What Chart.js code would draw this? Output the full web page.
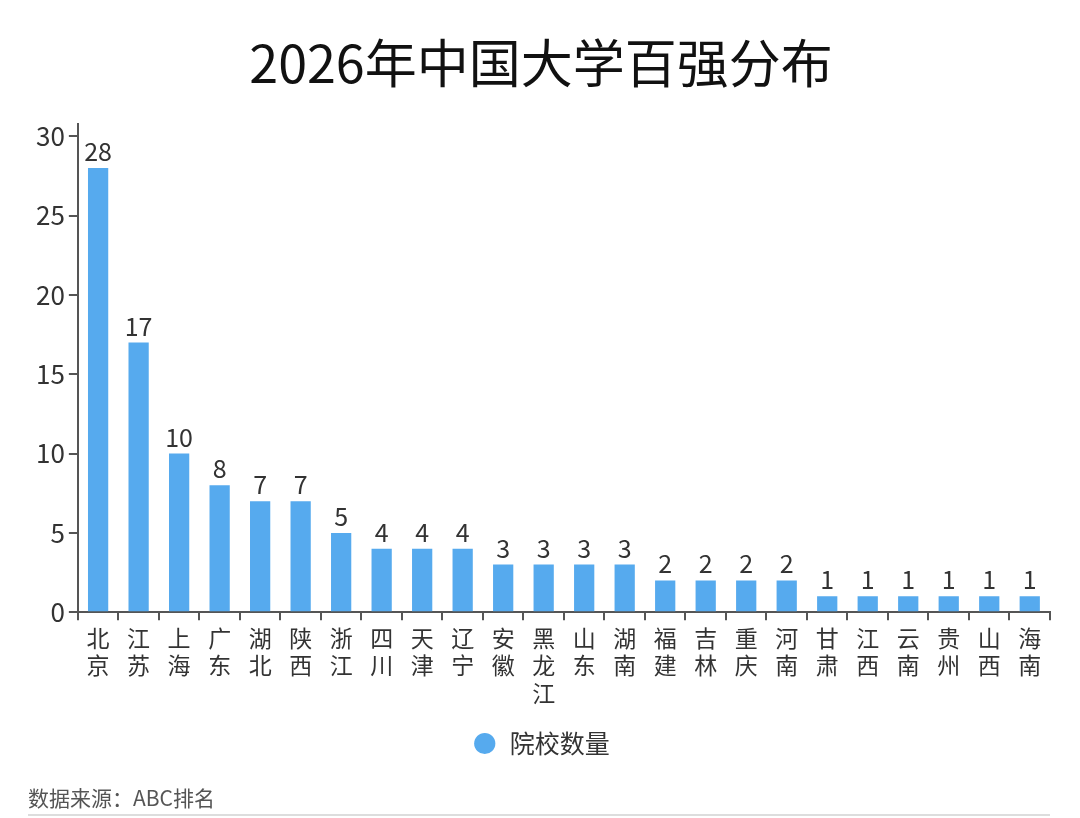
<!DOCTYPE html>
<html>
<head>
<meta charset="utf-8">
<script src="https://cdn.jsdelivr.net/npm/chart.js@4"></script>
<style>
    body { margin: 0; background: #fff; }
    #wrap { position: relative; width: 1080px; height: 818px; }
    #footer {
        position: absolute; left: 28px; top: 782px;
        font: 21px "Noto Sans CJK SC", sans-serif; color: #555;
    }
    #rule {
        position: absolute; left: 28px; top: 814px; width: 1022px; height: 2px;
        background: #ddd;
    }
</style>
</head>
<body>
<div id="wrap">
    <canvas id="chart" width="1080" height="818"></canvas>
    <div id="footer">数据来源：ABC排名</div>
    <div id="rule"></div>
</div>
<script>
const provinces = ["北京", "江苏", "上海", "广东", "湖北", "陕西", "浙江", "四川", "天津", "辽宁", "安徽", "黑龙江",
    "山东", "湖南", "福建", "吉林", "重庆", "河南", "甘肃", "江西", "云南", "贵州", "山西", "海南"];
const counts = [28, 17, 10, 8, 7, 7, 5, 4, 4, 4, 3, 3, 3, 3, 2, 2, 2, 2, 1, 1, 1, 1, 1, 1];
const yTicks = [0, 5, 10, 15, 20, 25, 30];

const font = '"Noto Sans CJK SC", "Noto Sans", sans-serif';

// ===== VALUE LABELS =====
const valueLabels = {
    id: "valueLabels",
    afterDatasetsDraw(chart) {
        const ctx = chart.ctx;
        const meta = chart.getDatasetMeta(0);
        ctx.save();
        ctx.font = "25px " + font;
        ctx.fillStyle = "#333";
        ctx.textAlign = "center";
        ctx.textBaseline = "bottom";
        meta.data.forEach((bar, i) => {
            ctx.fillText(counts[i], bar.x, bar.y - 4);
        });
        ctx.restore();
    }
};

new Chart(document.getElementById("chart").getContext("2d"), {
    type: "bar",
    data: {
        labels: provinces.map(p => p.split("")),
        datasets: [{
            label: "院校数量",
            data: counts,
            backgroundColor: "#56aaee",
            categoryPercentage: 1,
            barPercentage: 0.5
        }]
    },
    options: {
        responsive: false,
        animation: false,
        layout: { padding: { left: 32, right: 30, bottom: 52 } },
        plugins: {
            title: {
                display: true,
                text: "2026年中国大学百强分布",
                color: "#111",
                font: { family: font, size: 52, weight: "400" },
                padding: { top: 32, bottom: 30 }
            },
            legend: {
                position: "bottom",
                labels: {
                    usePointStyle: true,
                    pointStyle: "circle",
                    boxHeight: 15,
                    color: "#333",
                    font: { family: font, size: 25 },
                    padding: 20
                }
            },
            tooltip: { enabled: false }
        },
        scales: {
            x: {
                grid: { drawOnChartArea: false, drawTicks: true, tickLength: 8, color: "#555", lineWidth: 2 },
                border: { color: "#555", width: 2 },
                ticks: { color: "#333", font: { family: font, size: 23, lineHeight: 1.2 }, maxRotation: 0, autoSkip: false, padding: 4 }
            },
            y: {
                min: 0,
                max: 30.75,
                afterBuildTicks: axis => { axis.ticks = yTicks.map(v => ({ value: v })); },
                grid: { drawOnChartArea: false, drawTicks: true, tickLength: 9, color: "#555", lineWidth: 2 },
                border: { color: "#555", width: 2 },
                ticks: { color: "#333", font: { family: font, size: 26 }, padding: 4 }
            }
        }
    },
    plugins: [valueLabels]
});
</script>
</body>
</html>
